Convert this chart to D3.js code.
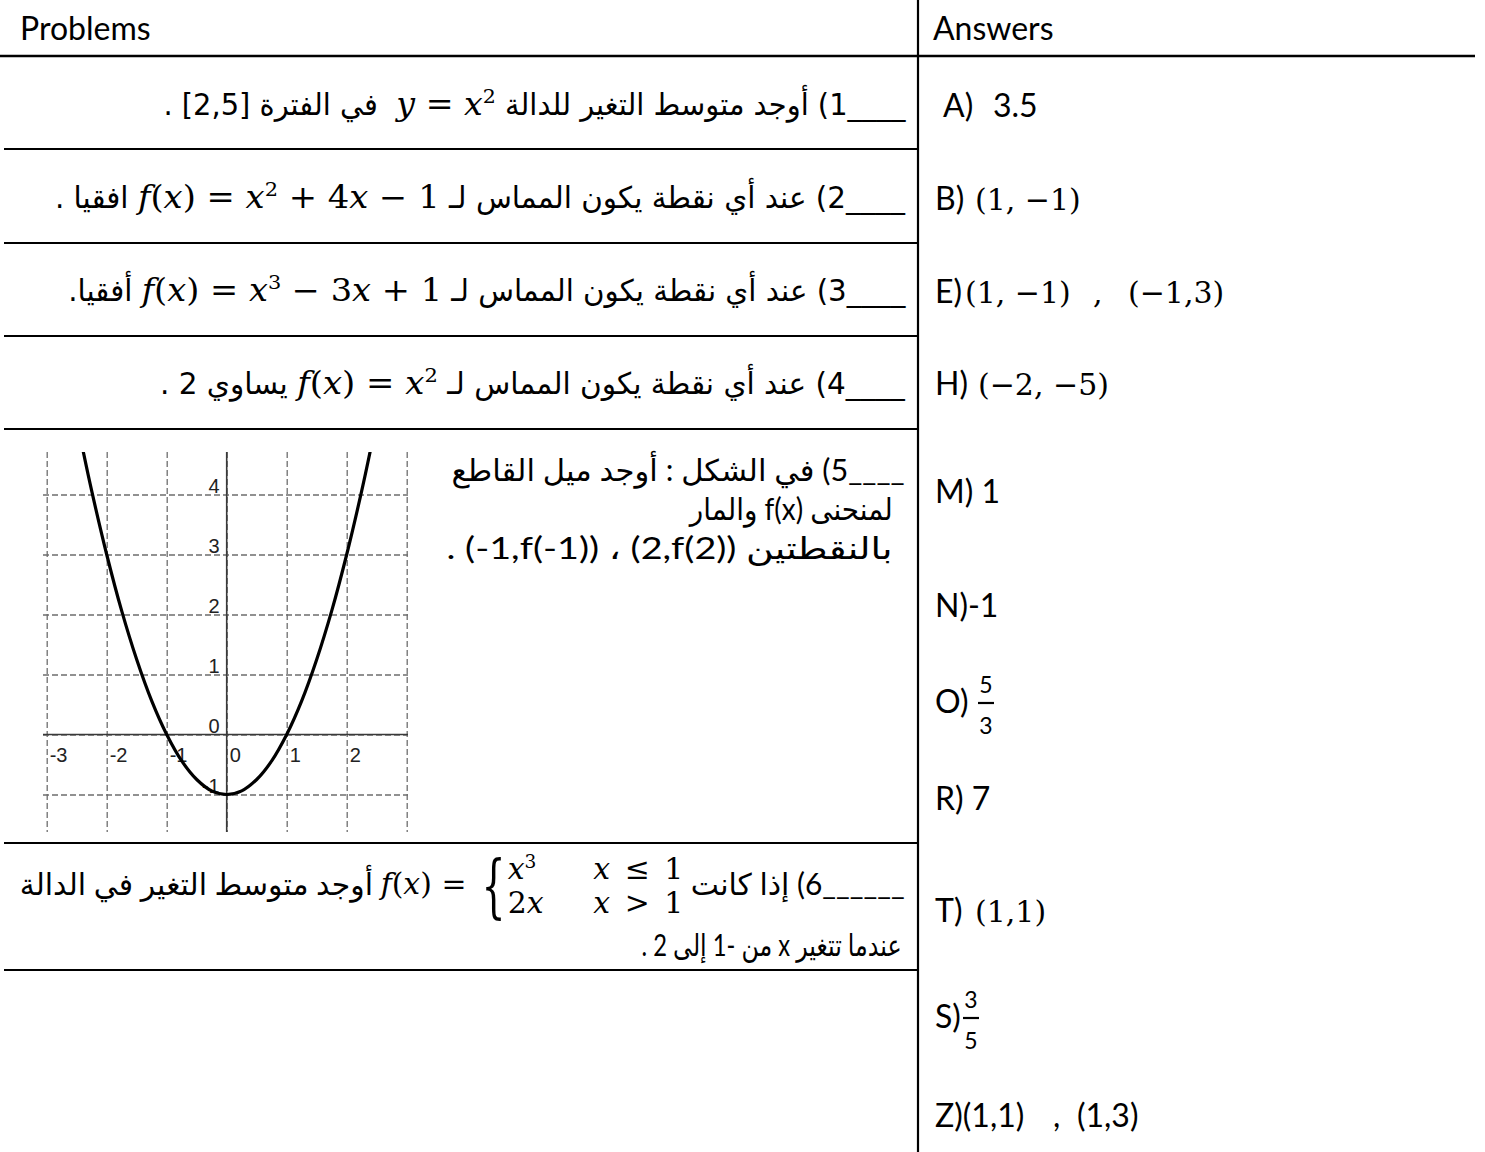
<!DOCTYPE html>
<html>
<head>
<meta charset="utf-8">
<script src="https://cdn.jsdelivr.net/npm/d3@7"></script>
<style>
body { margin: 0; background: #fff; }
#page { position: relative; width: 1485px; height: 1152px; overflow: hidden; }
#page svg { position: absolute; left: 0; top: 0; }
.line { position: absolute; top: 0; white-space: pre; direction: rtl; unicode-bidi: embed;
        transform-origin: 100% 0; color: #000; line-height: 1.2; }
.narrow { font-family: "DejaVu Sans Condensed", "DejaVu Sans"; font-size: 30px; }
.wide { font-family: Lato, "DejaVu Sans"; font-size: 30px; }
.m { direction: ltr; unicode-bidi: isolate; font-family: "DejaVu Serif"; font-size: 31px; }
.m i { font-style: italic; }
.m sup { font-size: 0.62em; vertical-align: 0.6em; line-height: 0; }
.ltr { direction: ltr; unicode-bidi: isolate; }
.bl { display: inline-block; width: 0; height: 0; vertical-align: baseline; }
.pw { font-size: 30px; }
.cases { display: inline-grid; grid-template-columns: auto auto; column-gap: 50px; row-gap: 0;
         line-height: 1.15; vertical-align: middle; text-align: left; word-spacing: 5px; }
.br { display: inline-block; font-size: 2.3em; line-height: 1; vertical-align: middle;
      transform: scaleX(0.55); margin: 0 -8px 0 -4px; font-style: normal; }
.sansA { font-family: Lato; font-size: 32px; fill: #000; white-space: pre; }
.mathA { font-family: "DejaVu Serif"; font-size: 30px; fill: #000; white-space: pre; }
.frac { font-family: Lato; font-size: 23px; fill: #000; }
.tick-lbl { font-family: "Liberation Sans", Arial; font-size: 20px; fill: #222; }
</style>
</head>
<body>
<div id="page"></div>
<script>
// ---- graph values ----
const gridX = [-3, -2, -1, 0, 1, 2, 3];
const gridY = [-1, 0, 1, 2, 3, 4];
const xTickVals = [-3, -2, -1, 0, 1, 2];
const xTickLabels = ["-3", "-2", "-1", "0", "1", "2"];
const yTickVals = [-1, 0, 1, 2, 3, 4];
const yTickLabels = ["-1", "0", "1", "2", "3", "4"];
const curveX = [-2.4, -2.25, -2, -1.75, -1.5, -1.25, -1, -0.75, -0.5, -0.25, 0,
                0.25, 0.5, 0.75, 1, 1.25, 1.5, 1.75, 2, 2.25, 2.4];
const curveY = [4.76, 4.06, 3, 2.06, 1.25, 0.56, 0, -0.44, -0.75, -0.94, -1,
                -0.94, -0.75, -0.44, 0, 0.56, 1.25, 2.06, 3, 4.06, 4.76];

// ---- table text ----
const headers = ["Problems", "Answers"];
const U = "____";
const problemLines = [
  `${U}1) أوجد متوسط التغير للدالة <span class="m"><i>y</i> = <i>x</i><sup>2</sup></span>  في الفترة [2,5] .`,
  `${U}2) عند أي نقطة يكون المماس لـ <span class="m"><i>f</i>(<i>x</i>) = <i>x</i><sup>2</sup> + 4<i>x</i> − 1</span> افقيا .`,
  `${U}3) عند أي نقطة يكون المماس لـ <span class="m"><i>f</i>(<i>x</i>) = <i>x</i><sup>3</sup> − 3<i>x</i> + 1</span> أفقيا.`,
  `${U}4) عند أي نقطة يكون المماس لـ <span class="m"><i>f</i>(<i>x</i>) = <i>x</i><sup>2</sup></span> يساوي 2 .`,
  `${U}5) في الشكل : أوجد ميل القاطع`,
  `لمنحنى f(x) والمار`,
  `بالنقطتين <span class="ltr">(2,f(2))</span> ، <span class="ltr">(-1,f(-1))</span> .`,
  `______6) إذا كانت <span class="m pw"><i>f</i>(<i>x</i>) = <span class="br">{</span><span class="cases"><span><i>x</i><sup>3</sup></span><span><i>x</i> ≤ 1</span><span>2<i>x</i></span><span><i>x</i> &gt; 1</span></span></span> أوجد متوسط التغير في الدالة`,
  `عندما تتغير x من -1 إلى 2 .`
];
const answers = [
  [["s", "A)"], ["s", "3.5"]],
  [["s", "B)"], ["m", "(1, −1)"]],
  [["s", "E)"], ["m", "(1, −1)"], ["m", ","], ["m", "(−1,3)"]],
  [["s", "H)"], ["m", "(−2, −5)"]],
  [["s", "M) 1"]],
  [["s", "N)-1"]],
  [["s", "O)"], ["f", "5", "3"]],
  [["s", "R) 7"]],
  [["s", "T)"], ["m", "(1,1)"]],
  [["s", "S)"], ["f", "3", "5"]],
  [["s", "Z)(1,1)"], ["s", ","], ["s", "(1,3)"]]
];

// ---- layout ----
const W = 1485, H = 1152;
const colX = 918, headerY = 56;
const rowLines = [149, 243, 336, 429, 843, 970];
const lineLayout = [
  { cls: "narrow", base: 115, left: 163, right: 905 },
  { cls: "narrow", base: 208, left: 55, right: 905 },
  { cls: "narrow", base: 301, left: 68, right: 905 },
  { cls: "narrow", base: 394, left: 160, right: 905 },
  { cls: "wide", base: 481, left: 452, right: 905 },
  { cls: "wide", base: 520, left: 690, right: 893 },
  { cls: "wide", base: 559, left: 447, right: 893 },
  { cls: "wide", base: 894, left: 20, right: 905 },
  { cls: "wide", base: 956, left: 642, right: 902 }
];
const answerBase = [117, 210, 303, 395, 503, 617, 713, 810, 922, 1028, 1127];
const answerX = [[943, 993], [935, 975], [935, 965, 1093, 1128], [935, 978], [935], [935],
                 [935, 986], [935], [935, 975], [935, 971], [935, 1053, 1077]];

const page = d3.select("#page");

// problem text (html so the browser does the bidi work)
problemLines.forEach((html, i) => {
  const L = lineLayout[i];
  const div = page.append("div")
      .attr("class", "line " + L.cls)
      .style("right", (W - L.right) + "px")
      .html(html + '<span class="bl"></span>');
  const node = div.node();
  const pageTop = page.node().getBoundingClientRect().top;
  const mark = node.querySelector(".bl").getBoundingClientRect();
  div.style("top", (L.base - (mark.bottom - pageTop)) + "px");
  const w = node.getBoundingClientRect().width;
  div.style("transform", `scaleX(${(L.right - L.left) / w})`);
});

const svg = page.append("svg").attr("width", W).attr("height", H);

// table rules
svg.append("line")
    .attr("x1", 0).attr("x2", 1475).attr("y1", headerY).attr("y2", headerY)
    .attr("stroke", "#000").attr("stroke-width", 2.6);
svg.append("line")
    .attr("x1", colX).attr("x2", colX).attr("y1", 0).attr("y2", H)
    .attr("stroke", "#000").attr("stroke-width", 2.2);
svg.selectAll(".rule")
  .data(rowLines)
  .enter()
  .append("line")
    .attr("class", "rule")
    .attr("x1", 4).attr("x2", colX).attr("y1", d => d).attr("y2", d => d)
    .attr("stroke", "#000").attr("stroke-width", 2.2);

svg.selectAll(".hdr")
  .data(headers)
  .enter()
  .append("text")
    .attr("class", "sansA")
    .attr("x", (d, i) => i === 0 ? 20 : 933)
    .attr("y", 40)
    .text(d => d);

// answers column
answers.forEach((parts, i) => {
  const base = answerBase[i];
  parts.forEach((p, j) => {
    const px = answerX[i][j];
    if (p[0] === "f") {
      svg.append("text").attr("class", "frac").attr("text-anchor", "middle")
          .attr("x", px).attr("y", base - 20).text(p[1]);
      svg.append("line")
          .attr("x1", px - 8).attr("x2", px + 8).attr("y1", base - 10).attr("y2", base - 10)
          .attr("stroke", "#000").attr("stroke-width", 2.2);
      svg.append("text").attr("class", "frac").attr("text-anchor", "middle")
          .attr("x", px).attr("y", base + 21).text(p[2]);
    } else {
      svg.append("text")
          .attr("class", p[0] === "m" ? "mathA" : "sansA")
          .attr("x", px).attr("y", base)
          .text(p[1]);
    }
  });
});

// ---- graph ----
const gLeft = 43, gRight = 408, gTop = 452, gBottom = 832;
const x = d3.scaleLinear().domain([-3, 3]).range([46.7, 406.7]);
const y = d3.scaleLinear().domain([-1, 4]).range([794.5, 494.5]);

const graph = svg.append("g");

graph.append("g")
    .attr("transform", `translate(0,${gTop})`)
    .call(d3.axisBottom(x).tickValues(gridX).tickSize(gBottom - gTop).tickFormat(""))
    .call(g => g.select(".domain").remove())
    .call(g => g.selectAll("line").attr("stroke", "#6e6e6e").attr("stroke-width", 1.3)
                 .attr("stroke-dasharray", "6,3"));

graph.append("g")
    .attr("transform", `translate(${gLeft},0)`)
    .call(d3.axisRight(y).tickValues(gridY).tickSize(gRight - gLeft).tickFormat(""))
    .call(g => g.select(".domain").remove())
    .call(g => g.selectAll("line").attr("stroke", "#6e6e6e").attr("stroke-width", 1.3)
                 .attr("stroke-dasharray", "6,3"));

// axes
graph.append("line")
    .attr("x1", gLeft).attr("x2", gRight).attr("y1", y(0)).attr("y2", y(0))
    .attr("stroke", "#3a3a3a").attr("stroke-width", 1.6);
graph.append("line")
    .attr("x1", x(0)).attr("x2", x(0)).attr("y1", gTop).attr("y2", gBottom)
    .attr("stroke", "#3a3a3a").attr("stroke-width", 1.6);

graph.selectAll(".xl")
  .data(xTickVals)
  .enter()
  .append("text")
    .attr("class", "tick-lbl")
    .attr("x", d => x(d) + 3)
    .attr("y", y(0) + 27)
    .text((d, i) => xTickLabels[i]);

graph.selectAll(".yl")
  .data(yTickVals)
  .enter()
  .append("text")
    .attr("class", "tick-lbl")
    .attr("text-anchor", "end")
    .attr("x", x(0) - 7)
    .attr("y", d => y(d) - 2)
    .text((d, i) => yTickLabels[i]);

svg.append("clipPath").attr("id", "plotclip")
  .append("rect")
    .attr("x", gLeft).attr("y", gTop).attr("width", gRight - gLeft).attr("height", gBottom - gTop);

const curveLine = d3.line()
    .x((d, i) => x(curveX[i]))
    .y(d => y(d))
    .curve(d3.curveCatmullRom);

graph.append("path")
    .attr("clip-path", "url(#plotclip)")
    .attr("d", curveLine(curveY))
    .attr("fill", "none")
    .attr("stroke", "#000")
    .attr("stroke-width", 3.2);
</script>
</body>
</html>
